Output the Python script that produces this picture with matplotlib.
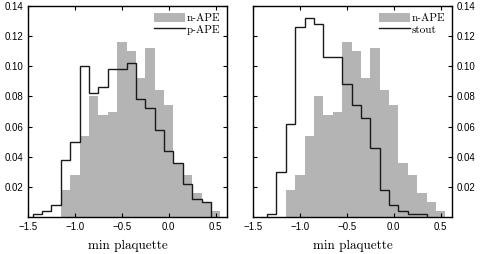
import matplotlib
matplotlib.use("Agg")
import matplotlib.pyplot as plt
import numpy as np
from matplotlib.patches import Patch
from matplotlib.lines import Line2D

# histogram fractions per bin (bin width 0.1)
nape_start = -1.15
nape = [0.018, 0.028, 0.054, 0.080, 0.068, 0.070, 0.116, 0.110, 0.092,
        0.112, 0.084, 0.074, 0.036, 0.028, 0.016, 0.010, 0.004]

pape_start = -1.45
pape = [0.002, 0.004, 0.008, 0.038, 0.050, 0.100, 0.082, 0.086, 0.098,
        0.098, 0.102, 0.078, 0.072, 0.058, 0.044, 0.036, 0.022, 0.012, 0.010]

stout_start = -1.35
stout = [0.002, 0.030, 0.062, 0.126, 0.132, 0.128, 0.106, 0.106, 0.088,
         0.074, 0.066, 0.046, 0.018, 0.008, 0.004, 0.002, 0.002]

xticks = [-1.5, -1.0, -0.5, 0.0, 0.5]
yticks = [0.02, 0.04, 0.06, 0.08, 0.10, 0.12, 0.14]
xlabel = "min plaquette"

GREY = "#b4b4b4"
LINE = "#1a1a1a"
serif = ["cmr10", "DejaVu Serif"]

other_start = {"p-APE": pape_start, "stout": stout_start}


def edges(start, vals):
    return np.round(start + 0.1 * np.arange(len(vals) + 1), 3)


def panel(ax, other, other_label, right):
    ax.stairs(nape, edges(nape_start, nape), fill=True, color=GREY, lw=0)
    ax.stairs(other, edges(other_start[other_label], other), fill=False,
              color=LINE, lw=1.0)
    ax.set_xlim(-1.5, 0.62)
    ax.set_ylim(0, 0.14)
    ax.set_xticks(xticks)
    ax.set_xticklabels(["\u22121.5", "\u22121.0", "\u22120.5", "0.0", "0.5"])
    ax.set_yticks(yticks)
    ax.set_yticklabels(["%.2f" % v for v in yticks])
    ax.tick_params(direction="in", top=True, right=True, length=3,
                   labelsize=7, width=0.8)
    if right:
        ax.tick_params(labelleft=False, labelright=True)
    for lab in ax.get_xticklabels() + ax.get_yticklabels():
        lab.set_family("Liberation Sans")
    for s in ax.spines.values():
        s.set_linewidth(1.0)
    ax.set_xlabel(xlabel, family=serif, fontsize=9.5, labelpad=6)
    handles = [Patch(facecolor=GREY, edgecolor="none"),
               Line2D([], [], color=LINE, lw=1.0)]
    ax.legend(handles, ["n-APE", other_label], loc="upper right",
              frameon=False, prop={"family": serif, "size": 8},
              handlelength=2.75, handleheight=0.9, handletextpad=0.2,
              borderaxespad=0.35, labelspacing=0.1, borderpad=0.25)


fig = plt.figure(figsize=(4.8, 2.54), dpi=100)
ax1 = fig.add_axes([28 / 480, 37 / 254, 199 / 480, 211 / 254])
ax2 = fig.add_axes([253 / 480, 37 / 254, 199 / 480, 211 / 254])
panel(ax1, pape, "p-APE", False)
panel(ax2, stout, "stout", True)

fig.savefig("out.png", dpi=100)
